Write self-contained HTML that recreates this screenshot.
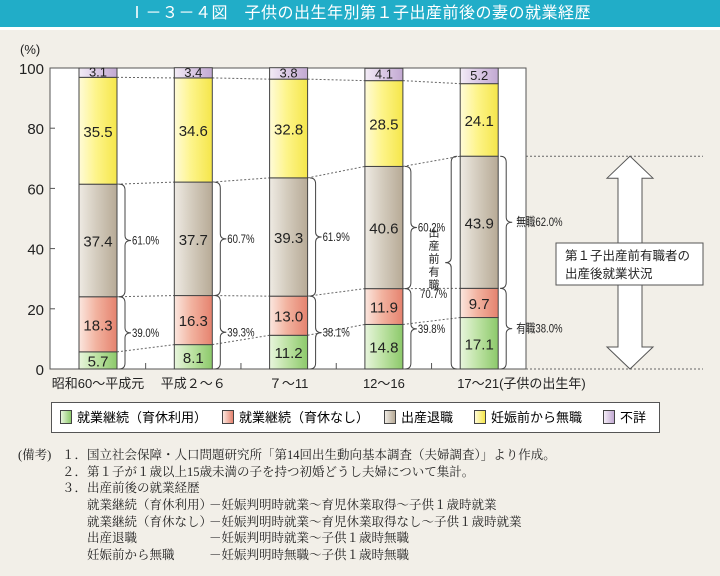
<!DOCTYPE html>
<html><head><meta charset="utf-8">
<style>
body{margin:0;width:720px;height:576px;background:#f2efe8;font-family:"Liberation Sans","Noto Sans CJK JP",sans-serif;overflow:hidden;position:relative}
#title{position:absolute;left:0;top:0;width:720px;height:27px;background:#21adc8;color:#fff;font-size:16px;line-height:27px;text-align:center;letter-spacing:0.5px}
#sep{position:absolute;left:0;top:27px;width:720px;height:3px;background:#fff}
#legend{position:absolute;left:51px;top:402px;width:607px;height:29px;border:1px solid #555;background:#fff;font-size:13px;line-height:29px;white-space:nowrap}
.li{position:absolute;top:0}
.sw{display:inline-block;width:10px;height:12px;border:1px solid #444;vertical-align:-2px;margin-right:5px}
#notes{position:absolute;left:0;top:447px;width:720px;font-family:"Liberation Serif","Noto Serif CJK SC",serif;font-size:12.5px;line-height:16.7px;color:#222}
#notes div{position:relative;height:16.7px;white-space:nowrap}
#notes span{position:absolute;top:0}
</style></head><body>
<div id="title">Ⅰ－３－４図　子供の出生年別第１子出産前後の妻の就業経歴</div>
<div id="sep"></div>
<svg id="chart" width="720" height="400" style="position:absolute;left:0;top:0">
<defs>
<linearGradient id="g0" x1="0" x2="1"><stop offset="0" stop-color="#e8f5dd"/><stop offset="0.45" stop-color="#bfe3a6"/><stop offset="1" stop-color="#8cc96a"/></linearGradient>
<linearGradient id="g1" x1="0" x2="1"><stop offset="0" stop-color="#fbe7df"/><stop offset="0.45" stop-color="#f2b3a0"/><stop offset="1" stop-color="#e5826e"/></linearGradient>
<linearGradient id="g2" x1="0" x2="1"><stop offset="0" stop-color="#eeeae3"/><stop offset="0.45" stop-color="#d4ccbe"/><stop offset="1" stop-color="#b7aa96"/></linearGradient>
<linearGradient id="g3" x1="0" x2="1"><stop offset="0" stop-color="#fffbd8"/><stop offset="0.45" stop-color="#fdf48a"/><stop offset="1" stop-color="#f5e64a"/></linearGradient>
<linearGradient id="g4" x1="0" x2="1"><stop offset="0" stop-color="#f3ecf6"/><stop offset="0.45" stop-color="#dccbe6"/><stop offset="1" stop-color="#c2a9d2"/></linearGradient>
</defs>
<g id="plot"></g>
</svg>
<div id="legend">
<span class="li" style="left:8px"><span class="sw" style="background:linear-gradient(90deg,#e8f5dd,#8cc96a)"></span>就業継続（育休利用）</span>
<span class="li" style="left:170px"><span class="sw" style="background:linear-gradient(90deg,#fbe7df,#e5826e)"></span>就業継続（育休なし）</span>
<span class="li" style="left:332px"><span class="sw" style="background:linear-gradient(90deg,#eeeae3,#b7aa96)"></span>出産退職</span>
<span class="li" style="left:422px"><span class="sw" style="background:linear-gradient(90deg,#fffbd8,#f5e64a)"></span>妊娠前から無職</span>
<span class="li" style="left:551px"><span class="sw" style="background:linear-gradient(90deg,#f3ecf6,#c2a9d2)"></span>不詳</span>
</div>
<div id="notes">
<div><span style="left:18px">(備考)</span><span style="left:62px">１．国立社会保障・人口問題研究所「第14回出生動向基本調査（夫婦調査）」より作成。</span></div>
<div><span style="left:62px">２．第１子が１歳以上15歳未満の子を持つ初婚どうし夫婦について集計。</span></div>
<div><span style="left:62px">３．出産前後の就業経歴</span></div>
<div><span style="left:87px">就業継続（育休利用）</span><span style="left:209px">－妊娠判明時就業～育児休業取得～子供１歳時就業</span></div>
<div><span style="left:87px">就業継続（育休なし）</span><span style="left:209px">－妊娠判明時就業～育児休業取得なし～子供１歳時就業</span></div>
<div><span style="left:87px">出産退職</span><span style="left:209px">－妊娠判明時就業～子供１歳時無職</span></div>
<div><span style="left:87px">妊娠前から無職</span><span style="left:209px">－妊娠判明時無職～子供１歳時無職</span></div>
</div>
<script>
const categories=["昭和60～平成元","平成２～６","７～11","12～16","17～21"];
const ikukyu=[5.7,8.1,11.2,14.8,17.1];
const noIkukyu=[18.3,16.3,13.0,11.9,9.7];
const taishoku=[37.4,37.7,39.3,40.6,43.9];
const mushoku=[35.5,34.6,32.8,28.5,24.1];
const fusho=[3.1,3.4,3.8,4.1,5.2];
const mushokuPct=["61.0%","60.7%","61.9%","60.2%","62.0%"];
const yushokuPct=["39.0%","39.3%","38.1%","39.8%","38.0%"];
const yTicks=[0,20,40,60,80,100];

const NS="http://www.w3.org/2000/svg";
const g=document.getElementById('plot');
const X0=50,X1=526,Y0=369,Y100=68,BW=38;
const y=v=>Y0-(Y0-Y100)*v/100;
const xc=i=>98+i*95.3;
function mk(tag,attrs,parent){const e=document.createElementNS(NS,tag);for(const k in attrs)e.setAttribute(k,attrs[k]);(parent||g).appendChild(e);return e;}
function txt(s,attrs){const e=mk('text',attrs);e.textContent=s;return e;}

const bg=mk('rect',{x:X0,y:Y100,width:X1-X0,height:Y0-Y100,fill:'#fff',stroke:'#555','stroke-width':1});


yTicks.forEach(t=>{
  const tl=txt(String(t),{x:44,y:y(t)+6,'text-anchor':'end','font-size':15,fill:'#222'});
  
  
  mk('line',{x1:X0,x2:X0+5,y1:y(t),y2:y(t),stroke:'#555'});
});
const yu=txt('(%)',{x:20,y:54,'font-size':13,fill:'#222'});


for(let i=0;i<4;i++){const xm=(xc(i)+xc(i+1))/2;mk('line',{x1:xm,x2:xm,y1:Y0,y2:Y0-6,stroke:'#555'});}

const series=[ikukyu,noIkukyu,taishoku,mushoku,fusho];
const sNames=['ikukyu','no-ikukyu','taishoku','mushoku','fusho'];
const cum=categories.map((c,i)=>{let a=[0];series.forEach(s=>a.push(a[a.length-1]+s[i]));return a;});
for(let i=0;i<4;i++){for(let k=1;k<=4;k++){
  mk('line',{x1:xc(i)+BW/2,x2:xc(i+1)-BW/2,y1:y(cum[i][k]),y2:y(cum[i+1][k]),stroke:'#666','stroke-width':1,'stroke-dasharray':'2,2'});
}}
categories.forEach((c,i)=>{
  series.forEach((s,k)=>{
    const b=mk('rect',{x:xc(i)-BW/2,y:y(cum[i][k+1]),width:BW,height:y(cum[i][k])-y(cum[i][k+1]),fill:`url(#g${k})`,stroke:'#444','stroke-width':1});
    
    
    const mid=(y(cum[i][k])+y(cum[i][k+1]))/2;
    const fs=k===4?13:15;
    const t=txt(s[i].toFixed(1),{x:xc(i),y:mid+(k===4?4:6),'text-anchor':'middle','font-size':fs,fill:'#222'});
    
    
  });
  const xl=txt(i===4?categories[i]+'(子供の出生年)':categories[i],{x:i===4?xc(i)-22:xc(i),y:388,'text-anchor':i===4?'start':'middle','font-size':13,fill:'#222'});
  
  
});
function brace(x,ya,yb,dir){
  const m=(ya+yb)/2,w=6*dir;
  mk('path',{d:`M${x},${ya} q${w},0 ${w},6 L${x+w},${m-5} q0,5 ${w},5 q${-w},0 ${-w},5 L${x+w},${yb-6} q0,6 ${-w},6`,fill:'none',stroke:'#444','stroke-width':1});
  return m;
}
function small(s,x,yy){const t=txt(s,{x:x,y:yy,'font-size':12,fill:'#222','transform':`translate(${x},0) scale(0.8,1) translate(${-x},0)`});return t;}
categories.forEach((c,i)=>{
  const xr=xc(i)+BW/2+2;
  const m1=brace(xr,y(cum[i][3]),y(cum[i][2]),1);
  const m2=brace(xr,y(cum[i][2]),y(0),1);
  if(i<4){small(mushokuPct[i],xr+13,m1+4);small(yushokuPct[i],xr+13,m2+4);}
  else{small('無職'+mushokuPct[i],xr+16,m1+4);small('有職'+yushokuPct[i],xr+16,m2+4);}
});
brace(xc(4)-BW/2-3,y(cum[4][3]),y(0),-1);
const vt=txt('出産前有職',{x:433,y:227,'font-size':11,fill:'#222','writing-mode':'tb','letter-spacing':'2','text-anchor':'start'});


small('70.7%',420,298);
mk('line',{x1:X1,x2:703,y1:y(cum[4][3]),y2:y(cum[4][3]),stroke:'#666','stroke-dasharray':'2,2'});
mk('line',{x1:X1,x2:703,y1:Y0,y2:Y0,stroke:'#666','stroke-dasharray':'2,2'});
const ya=y(cum[4][3]),yb=Y0;
const ar=mk('path',{d:`M630,${ya} L653,${ya+22} L642,${ya+22} L642,${yb-22} L653,${yb-22} L630,${yb} L607,${yb-22} L618,${yb-22} L618,${ya+22} L607,${ya+22} Z`,fill:'#fff',stroke:'#555','stroke-width':1});


const bx=mk('rect',{x:556,y:243,width:147,height:42,fill:'#fff',stroke:'#555'});


txt('第１子出産前有職者の',{x:565,y:260,'font-size':12.5,fill:'#222'});
txt('出産後就業状況',{x:565,y:278,'font-size':12.5,fill:'#222'});
</script>
</body></html>
